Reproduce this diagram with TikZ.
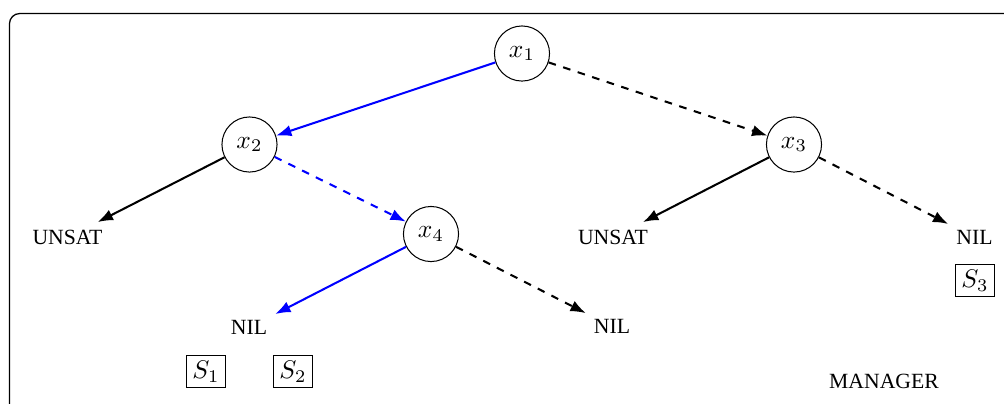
\documentclass[tikz,border=0pt]{standalone}
\usepackage{fontspec}
\newfontfamily\tnr{Liberation Serif}
\usetikzlibrary{arrows.meta}
\begin{document}
\begin{tikzpicture}[x=0.392pt,y=-0.392pt,
  var/.style={draw,circle,minimum size=21.6pt,inner sep=0pt,line width=0.4pt},
  lbl/.style={font=\tnr\fontsize{8.5}{10}\selectfont,inner sep=3pt},
  sbox/.style={draw,inner sep=2.2pt,line width=0.4pt},
  edge/.style={thick,-{Latex[length=6pt,width=4.5pt]}},
  hi/.style={edge,blue},
  neg/.style={edge,dashed}]
\path[use as bounding box] (0,0) rectangle (1004,403);
\clip (0,0) rectangle (1004,403);
\draw[line width=0.5pt,rounded corners=4pt] (9.5,13.5) rectangle (1030,430);
\node[var] (x1) at (522,53.5) {$x_1$};
\node[var] (x2) at (249.5,144.5) {$x_2$};
\node[var] (x3) at (794,144.5) {$x_3$};
\node[var] (x4) at (431,234) {$x_4$};
\node[lbl] (u1) at (67.5,237.5) {UNSAT};
\node[lbl] (u2) at (613,237.5) {UNSAT};
\node[lbl] (n3) at (974.5,237.5) {NIL};
\node[lbl] (n1) at (249,327.5) {NIL};
\node[lbl] (n2) at (612,326.5) {NIL};
\node[lbl] (mg) at (884,381.5) {MANAGER};
\node[sbox] (s1) at (206,371.5) {$S_1$};
\node[sbox] (s2) at (293,371.5) {$S_2$};
\node[sbox] (s3) at (975,280.5) {$S_3$};
\draw[hi] (x1) -- (x2);
\draw[neg] (x1) -- (x3);
\draw[edge] (x2) -- (u1);
\draw[hi,dashed] (x2) -- (x4);
\draw[edge] (x3) -- (u2);
\draw[neg] (x3) -- (n3);
\draw[hi] (x4) -- (n1);
\draw[neg] (x4) -- (n2);
\end{tikzpicture}
\end{document}
